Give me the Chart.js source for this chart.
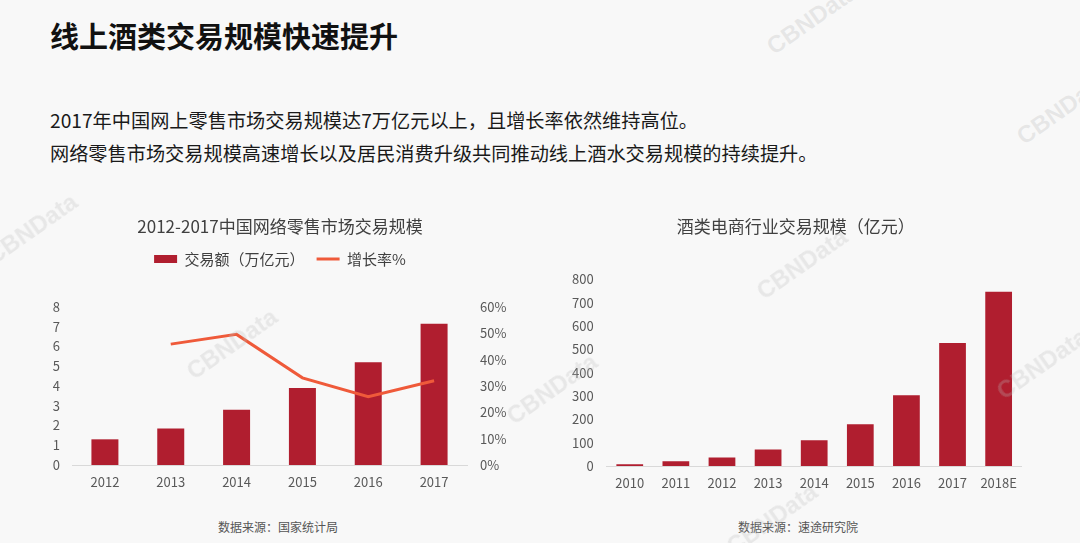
<!DOCTYPE html>
<html lang="zh-CN">
<head>
<meta charset="utf-8">
<script src="https://cdn.jsdelivr.net/npm/chart.js@4"></script>
<style>
  html, body { margin: 0; padding: 0; }
  body {
    width: 1080px; height: 543px; overflow: hidden; position: relative;
    background: #f8f8f8;
    font-family: "Noto Sans CJK SC", "Noto Sans", sans-serif;
  }
  .title {
    position: absolute; left: 50px; top: 20px; margin: 0;
    font-size: 29px; line-height: 30px; font-weight: bold; color: #111;
  }
  .desc {
    position: absolute; left: 50px; top: 104px; margin: 0;
    font-size: 19.2px; line-height: 33px; color: #1a1a1a;
  }
  .box { position: absolute; }
  .source {
    position: absolute; top: 519px; font-size: 12px; line-height: 16px; color: #555;
  }
  .wm {
    position: absolute; font-family: "Liberation Sans", sans-serif; font-weight: bold;
    font-size: 24px; color: rgba(185, 185, 185, 0.28); transform: rotate(-35deg);
    pointer-events: none; white-space: nowrap;
  }
</style>
</head>
<body>
<h1 class="title">线上酒类交易规模快速提升</h1>
<p class="desc">2017年中国网上零售市场交易规模达7万亿元以上，且增长率依然维持高位。<br>网络零售市场交易规模高速增长以及居民消费升级共同推动线上酒水交易规模的持续提升。</p>

<div class="box" style="left:40px; top:200px; width:480px; height:300px;"><canvas id="retailChart"></canvas></div>
<div class="box" style="left:570px; top:200px; width:470px; height:300px;"><canvas id="wineChart"></canvas></div>

<div class="source" style="left:218px;">数据来源：国家统计局</div>
<div class="source" style="left:738px;">数据来源：速途研究院</div>

<div class="wm" style="left:760px; top:5px;">CBNData</div>
<div class="wm" style="left:1010px; top:95px;">CBNData</div>
<div class="wm" style="left:-20px; top:215px;">CBNData</div>
<div class="wm" style="left:180px; top:330px;">CBNData</div>
<div class="wm" style="left:500px; top:375px;">CBNData</div>
<div class="wm" style="left:750px; top:250px;">CBNData</div>
<div class="wm" style="left:990px; top:350px;">CBNData</div>
<div class="wm" style="left:720px; top:505px;">CBNData</div>

<script>
// 左：2012-2017中国网络零售市场交易规模
const retailYears = ['2012', '2013', '2014', '2015', '2016', '2017'];
const retailVolume = [1.3, 1.85, 2.8, 3.9, 5.2, 7.15];      // 万亿元
const retailGrowth = [null, 45.9, 49.6, 33.1, 25.9, 32.0];  // %

// 右：酒类电商行业交易规模（亿元）
const wineYears = ['2010', '2011', '2012', '2013', '2014', '2015', '2016', '2017', '2018E'];
const wineVolume = [7, 20, 36, 71, 110, 179, 303, 527, 747];

const BAR_RED = '#b01e2f';
const LINE_ORANGE = '#ef5a3a';
const TICK_COLOR = '#595959';
const FONT = '"Noto Sans CJK SC", "Noto Sans", sans-serif';

Chart.defaults.font.family = FONT;
Chart.defaults.color = TICK_COLOR;
Chart.defaults.animation = false;

// 凡例とプロット領域の間隔を広げる
const legendGap = {
  id: 'legendGap',
  beforeInit(chart) {
    if (!chart.legend) return;
    const fit = chart.legend.fit;
    chart.legend.fit = function () {
      fit.bind(chart.legend)();
      this.height += 30.5;
    };
  }
};

function fixWidth(w) { return axis => { axis.width = w; }; }
function fixHeight(h) { return axis => { axis.height = h; }; }

new Chart(document.getElementById('retailChart'), {
  data: {
    labels: retailYears,
    datasets: [
      {
        type: 'bar',
        label: '交易额（万亿元）',
        data: retailVolume,
        backgroundColor: BAR_RED,
        borderWidth: 0,
        pointStyle: 'rect',
        barPercentage: 0.41,
        categoryPercentage: 1,
        yAxisID: 'y',
        order: 1
      },
      {
        type: 'line',
        label: '增长率%',
        data: retailGrowth,
        borderColor: LINE_ORANGE,
        backgroundColor: LINE_ORANGE,
        borderWidth: 3,
        pointRadius: 0,
        pointStyle: 'line',
        tension: 0,
        yAxisID: 'y1',
        order: 0
      }
    ]
  },
  options: {
    responsive: true,
    maintainAspectRatio: false,
    layout: { padding: 0 },
    plugins: {
      title: {
        display: true,
        text: '2012-2017中国网络零售市场交易规模',
        color: '#404040',
        font: { size: 17, weight: 'normal' },
        padding: { top: 16.8, bottom: 2.3 }
      },
      legend: {
        display: true,
        labels: {
          usePointStyle: true,
          pointStyleWidth: 23,
          boxHeight: 8,
          padding: 12,
          color: '#404040',
          font: { size: 15 },
          sort: (a, b) => a.datasetIndex - b.datasetIndex
        }
      },
      tooltip: { enabled: false }
    },
    scales: {
      x: {
        grid: { display: false, drawTicks: false, tickLength: 0 },
        border: { display: true, color: '#d9d9d9', width: 1 },
        ticks: { padding: 9, font: { size: 13 }, color: TICK_COLOR },
        afterFit: fixHeight(35)
      },
      y: {
        position: 'left',
        min: 0, max: 8,
        grid: { display: false, drawTicks: false, tickLength: 0 },
        border: { display: false },
        ticks: { stepSize: 1, padding: 12, font: { size: 13 }, color: TICK_COLOR },
        afterFit: fixWidth(32)
      },
      y1: {
        position: 'right',
        min: 0, max: 60,
        grid: { display: false, drawTicks: false, tickLength: 0 },
        border: { display: false },
        ticks: {
          stepSize: 10, padding: 13, font: { size: 13 }, color: TICK_COLOR,
          callback: v => v + '%'
        },
        afterFit: fixWidth(53)
      }
    }
  },
  plugins: [legendGap]
});

new Chart(document.getElementById('wineChart'), {
  type: 'bar',
  data: {
    labels: wineYears,
    datasets: [{
      label: '交易规模',
      data: wineVolume,
      backgroundColor: BAR_RED,
      borderWidth: 0,
      barPercentage: 0.58,
      categoryPercentage: 1
    }]
  },
  options: {
    responsive: true,
    maintainAspectRatio: false,
    layout: { padding: { right: 18.3 } },
    plugins: {
      title: {
        display: true,
        text: '酒类电商行业交易规模（亿元）',
        color: '#404040',
        font: { size: 17, weight: 'normal' },
        padding: { top: 16.8, bottom: 42.1 }
      },
      legend: { display: false },
      tooltip: { enabled: false }
    },
    scales: {
      x: {
        grid: { display: false, drawTicks: false, tickLength: 0 },
        border: { display: true, color: '#d9d9d9', width: 1 },
        ticks: { padding: 9, font: { size: 13 }, color: TICK_COLOR },
        afterFit: fixHeight(34)
      },
      y: {
        min: 0, max: 800,
        grid: { display: false, drawTicks: false, tickLength: 0 },
        border: { display: false },
        ticks: { stepSize: 100, padding: 13, font: { size: 13 }, color: TICK_COLOR },
        afterFit: fixWidth(36.7)
      }
    }
  }
});
</script>
</body>
</html>
